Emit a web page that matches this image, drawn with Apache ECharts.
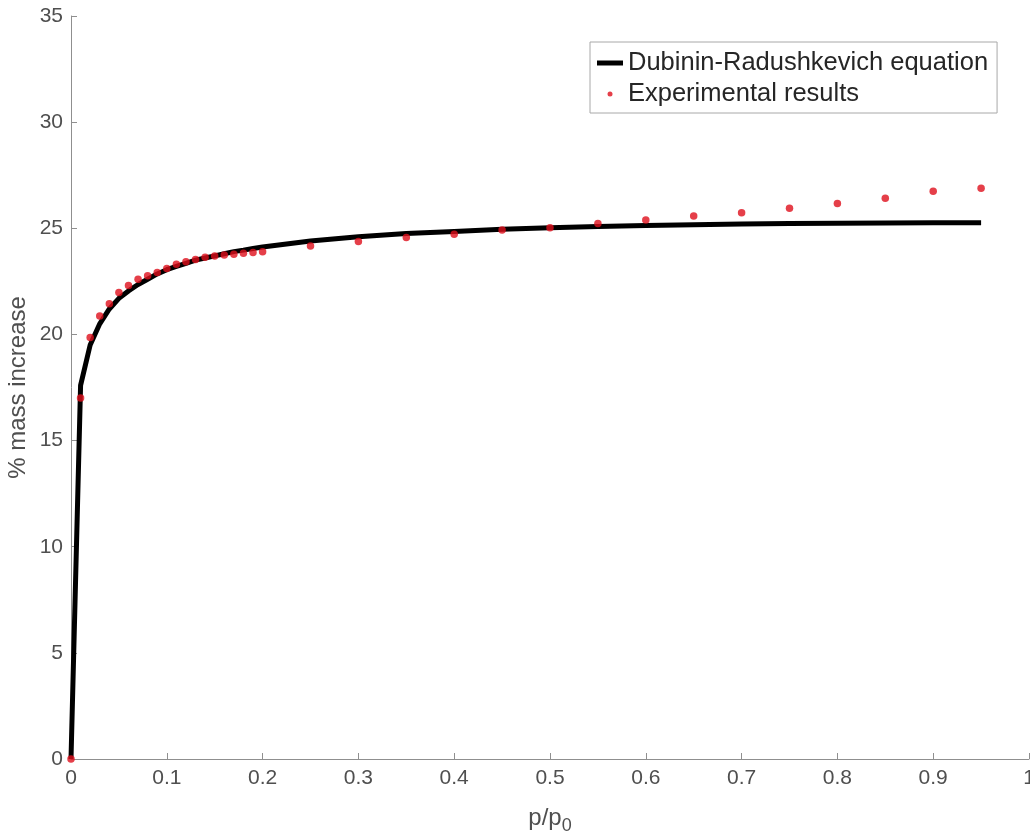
<!DOCTYPE html>
<html>
<head>
<meta charset="utf-8">
<script src="https://cdn.jsdelivr.net/npm/echarts@6/dist/echarts.min.js"></script>
<style>
  html, body { margin: 0; padding: 0; background: #fff; }
  #chart { width: 1030px; height: 835px; }
</style>
</head>
<body>
<div id="chart"></div>
<script>
'use strict';

// relative pressure p/p0 where both series are given
const arrPressure = [0, 0.01, 0.02, 0.03, 0.04, 0.05, 0.06, 0.07, 0.08, 0.09,
    0.1, 0.11, 0.12, 0.13, 0.14, 0.15, 0.16, 0.17, 0.18, 0.19,
    0.2, 0.25, 0.3, 0.35, 0.4, 0.45, 0.5, 0.55, 0.6, 0.65,
    0.7, 0.75, 0.8, 0.85, 0.9, 0.95];

// Dubinin-Radushkevich curve (% mass increase)
const arrModel = [0, 17.6, 19.5, 20.5, 21.2, 21.7, 22.05, 22.35, 22.6, 22.85,
    23.05, 23.2, 23.35, 23.5, 23.6, 23.7, 23.8, 23.9, 23.97, 24.05,
    24.12, 24.4, 24.6, 24.75, 24.85, 24.95, 25.02, 25.08, 25.13, 25.17,
    25.2, 25.22, 25.24, 25.25, 25.26, 25.26];

// experimental results (% mass increase)
const arrExperiment = [0, 17.0, 19.85, 20.87, 21.45, 21.98, 22.3, 22.6, 22.77, 22.92,
    23.1, 23.3, 23.42, 23.53, 23.63, 23.69, 23.74, 23.78, 23.82, 23.86,
    23.89, 24.16, 24.38, 24.57, 24.72, 24.92, 25.03, 25.22, 25.39, 25.58,
    25.73, 25.94, 26.17, 26.42, 26.75, 26.89];

const arrXTicks = ['0', '0.1', '0.2', '0.3', '0.4', '0.5', '0.6', '0.7', '0.8', '0.9', '1'];
const arrYTicks = ['0', '5', '10', '15', '20', '25', '30', '35'];

const strLine = 'Dubinin-Radushkevich equation';
const strDots = 'Experimental results';

const chart = echarts.init(document.getElementById('chart'), null, { renderer: 'canvas' });

const fontFamily = 'Liberation Sans, Arial, sans-serif';
const axisGray = '#8f8f8f';
const labelGray = '#4f4f4f';
const dotRed = '#de0f1c';

const option = {
    animation: false,
    backgroundColor: '#fff',
    textStyle: { fontFamily: fontFamily },
    grid: {
        left: 71,
        right: 1,
        top: 16,
        bottom: 76,
        containLabel: false,
        outerBoundsMode: 'none'
    },
    legend: {
        orient: 'vertical',
        left: 590,
        top: 42,
        padding: [8, 9, 6, 7],
        itemGap: 5,
        itemWidth: 26,
        itemHeight: 5,
        borderColor: '#a8a8a8',
        borderWidth: 1,
        backgroundColor: '#fff',
        textStyle: { fontSize: 25.5, color: '#262626', fontFamily: fontFamily },
        data: [
            { name: strLine, icon: 'rect', itemStyle: { color: '#000' } },
            { name: strDots, icon: 'circle', itemStyle: { color: dotRed } }
        ]
    },
    xAxis: {
        type: 'value',
        min: 0,
        max: 1,
        interval: 0.1,
        name: '{p|p/p}{s|0}',
        nameLocation: 'middle',
        nameGap: 43,
        nameMoveOverlap: false,
        nameTextStyle: {
            rich: {
                p: { fontSize: 24, color: labelGray, fontFamily: fontFamily },
                s: { fontSize: 18, color: labelGray, fontFamily: fontFamily, padding: [15, 0, 0, 0] }
            }
        },
        splitLine: { show: false },
        axisLine: { onZero: false, lineStyle: { color: axisGray, width: 1 } },
        axisTick: { inside: true, length: 6, lineStyle: { color: axisGray } },
        axisLabel: {
            fontSize: 21,
            color: labelGray,
            margin: 9,
            hideOverlap: false,
            formatter: (v) => arrXTicks[Math.round(v * 10)]
        }
    },
    yAxis: {
        type: 'value',
        min: 0,
        max: 35,
        interval: 5,
        name: '% mass increase',
        nameLocation: 'middle',
        nameGap: 41,
        nameMoveOverlap: false,
        nameTextStyle: { fontSize: 24, color: labelGray, fontFamily: fontFamily },
        splitLine: { show: false },
        axisLine: { show: true, onZero: false, lineStyle: { color: axisGray, width: 1 } },
        axisTick: { show: true, inside: true, length: 6, lineStyle: { color: axisGray } },
        axisLabel: {
            fontSize: 21,
            color: labelGray,
            margin: 8,
            formatter: (v) => arrYTicks[Math.round(v / 5)]
        }
    },
    series: [{
        name: strLine,
        type: 'line',
        data: arrPressure.map((x, i) => [x, arrModel[i]]),
        showSymbol: false,
        symbol: 'none',
        clip: false,
        z: 2,
        itemStyle: { color: '#000' },
        lineStyle: { color: '#000', width: 5 }
    }, {
        name: strDots,
        type: 'scatter',
        data: arrPressure.map((x, i) => [x, arrExperiment[i]]),
        symbol: 'circle',
        symbolSize: 7.5,
        clip: false,
        z: 3,
        itemStyle: { color: dotRed }
    }]
};

chart.setOption(option);
</script>
</body>
</html>
